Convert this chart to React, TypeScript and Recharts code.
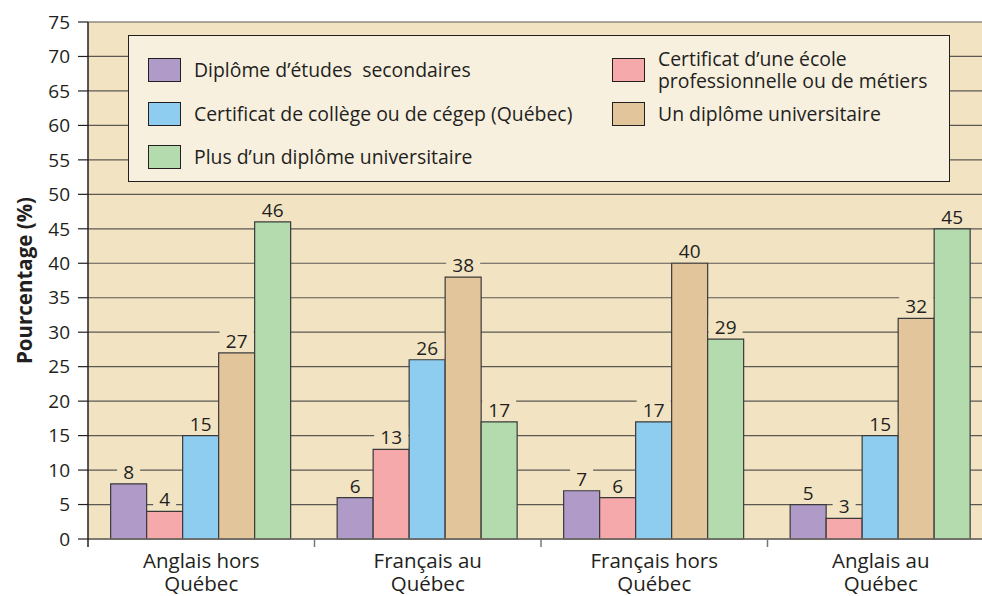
import { BarChart, Bar, XAxis, YAxis, CartesianGrid, Legend, LabelList } from 'recharts';

const categories = ['Anglais hors Québec', 'Français au Québec', 'Français hors Québec', 'Anglais au Québec'];
const secondaire = [8, 6, 7, 5];
const ecolePro = [4, 13, 6, 3];
const college = [15, 26, 17, 15];
const universitaire = [27, 38, 40, 32];
const plusUniv = [46, 17, 29, 45];
const yTicks = [0, 5, 10, 15, 20, 25, 30, 35, 40, 45, 50, 55, 60, 65, 70, 75];

const series = [
  { key: 'secondaire', name: 'Diplôme d’études  secondaires', values: secondaire, color: '#b09ac8' },
  { key: 'ecolePro', name: 'Certificat d’une école professionnelle ou de métiers', values: ecolePro, color: '#f6a9ab' },
  { key: 'college', name: 'Certificat de collège ou de cégep (Québec)', values: college, color: '#8fcdf0' },
  { key: 'universitaire', name: 'Un diplôme universitaire', values: universitaire, color: '#e3c59c' },
  { key: 'plusUniv', name: 'Plus d’un diplôme universitaire', values: plusUniv, color: '#b3dbae' },
];

const data = categories.map((cat, i) => {
  const row: Record<string, string | number> = { cat };
  series.forEach(s => { row[s.key] = s.values[i]; });
  return row;
});

const FONT = '"Open Sans", "Noto Sans", sans-serif';
const INK = '#231f20';
const PLOT_BG = '#f2e4c3';

const CatTick = (props: any) => {
  const { x, y, payload } = props;
  const half = payload.offset ?? 113;
  const text: string = payload.value;
  const cut = text.lastIndexOf(' ');
  return (
    <g>
      <line x1={x - half} x2={x - half} y1={y} y2={y + 8} stroke={payload.index === 0 ? INK : '#777'} strokeWidth={1.5} />
      <text x={x} y={y + 29} textAnchor="middle" fontSize={20.5} fill={INK} fontFamily={FONT}>{text.slice(0, cut)}</text>
      <text x={x} y={y + 52} textAnchor="middle" fontSize={20.5} fill={INK} fontFamily={FONT}>{text.slice(cut + 1)}</text>
    </g>
  );
};

const ValueLabel = (props: any) => {
  const { x, y, width, value } = props;
  const cx = x + width / 2;
  const w = String(value).length * 11 + 12;
  return (
    <g>
      <rect x={cx - w / 2} y={y - 22} width={w} height={18} fill={PLOT_BG} />
      <text x={cx} y={y - 5} textAnchor="middle" fontSize={19} fill={INK} fontFamily={FONT}>{value}</text>
    </g>
  );
};

const LegendBox = () => (
  <div style={{
    width: 822, height: 147, boxSizing: 'border-box', background: '#f8f0df', border: `1.5px solid ${INK}`,
    position: 'relative', fontFamily: FONT, fontSize: 19.4, color: INK,
  }}>
    {series.map((s, i) => {
      const col = i % 2;
      const row = Math.floor(i / 2);
      return (
        <div key={s.key} style={{ position: 'absolute', left: col ? 483 : 19, top: 22 + row * 43.5, height: 24, display: 'flex', alignItems: 'center' }}>
          <div style={{ width: 33, height: 24, boxSizing: 'border-box', background: s.color, border: `1.2px solid ${INK}`, flex: 'none' }} />
          <div style={{ marginLeft: 13, width: col ? 300 : 420, lineHeight: '22px', whiteSpace: 'pre-wrap' }}>{s.name}</div>
        </div>
      );
    })}
  </div>
);

export default function App() {
  return (
    <div style={{ position: 'absolute', left: 0, top: 0, width: 982, height: 596, overflow: 'hidden', background: '#fff' }}>
      <BarChart width={1000} height={596} data={data} margin={{ top: 22, right: 6, bottom: 0, left: 0 }}
        barCategoryGap="10%" barGap={0}>
        <CartesianGrid vertical={false} fill={PLOT_BG} stroke="#5b5753" strokeWidth={1.2} />
        <XAxis dataKey="cat" height={57} tickSize={0} tickMargin={0} tickLine={false}
          axisLine={{ stroke: '#6f6b66', strokeWidth: 1.5 }} tick={<CatTick />} interval={0} />
        <YAxis width={88} domain={[0, 75]} ticks={yTicks} interval={0} tickSize={10} tickMargin={8}
          axisLine={{ stroke: INK, strokeWidth: 1.5 }} tickLine={{ stroke: INK, strokeWidth: 1.2 }}
          tick={{ fontSize: 19, fill: INK, fontFamily: FONT }}
          label={{
            content: (p: any) => {
              const vb = p.viewBox || { y: 22, height: 517 };
              const cy = vb.y + vb.height / 2;
              return (
                <text x={24} y={cy} transform={`rotate(-90 24 ${cy})`} textAnchor="middle" dominantBaseline="central"
                  fontSize={20.5} fontWeight="bold" fill={INK} fontFamily={FONT}>Pourcentage (%)</text>
              );
            },
          }} />
        <Legend layout="vertical" align="center" verticalAlign="middle"
          wrapperStyle={{ position: 'absolute', left: 128, top: 35, width: 822, height: 147 }}
          content={() => <LegendBox />} />
        {series.map(s => (
          <Bar key={s.key} dataKey={s.key} name={s.name} fill={s.color} stroke="#3a3a3a" strokeWidth={1.2} isAnimationActive={false}>
            <LabelList dataKey={s.key} position="top" content={<ValueLabel />} />
          </Bar>
        ))}
      </BarChart>
    </div>
  );
}
